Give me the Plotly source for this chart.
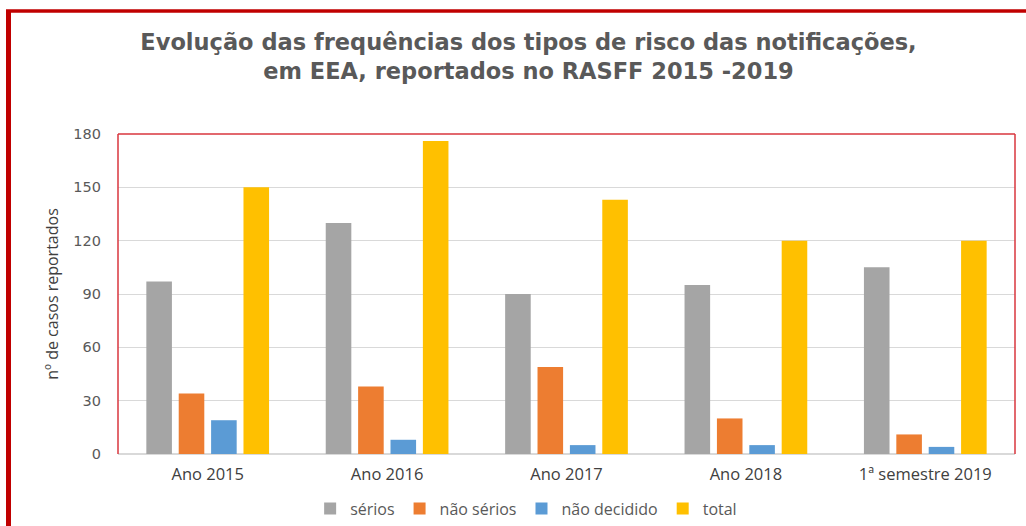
import plotly.graph_objects as go

categories = ["Ano 2015", "Ano 2016", "Ano 2017", "Ano 2018", "1ª semestre 2019"]
serios = [97, 130, 90, 95, 105]
nao_serios = [34, 38, 49, 20, 11]
nao_decidido = [19, 8, 5, 5, 4]
total = [150, 176, 143, 120, 120]
y_ticks = [0, 30, 60, 90, 120, 150, 180]
title_text = ("Evolução das frequências dos tipos de risco das notificações,<br>"
              "em EEA, reportados no RASFF 2015 -2019")

W, H = 1026, 526
L, R, T, B = 118, 11, 134, 72
pw, ph = W - L - R, H - T - B

fig = go.Figure()
series = [("sérios", serios, "#A5A5A5"), ("não sérios", nao_serios, "#ED7D31"),
          ("não decidido", nao_decidido, "#5B9BD5"), ("total", total, "#FFC000")]
for name, vals, col in series:
    fig.add_trace(go.Bar(x=categories, y=vals, name=name, marker_color=col,
                         marker_line_width=0))

def px_x(p):
    return (p - L) / pw

def px_y(p):
    return (H - B - p) / ph

shapes = [
    dict(type="line", xref="paper", yref="paper", x0=0, x1=0, y0=0, y1=1,
         line=dict(color="#D9363E", width=1.5)),
    dict(type="line", xref="paper", yref="paper", x0=0, x1=1, y0=1, y1=1,
         line=dict(color="#D9363E", width=1.5)),
    dict(type="line", xref="paper", yref="paper", x0=1, x1=1, y0=0, y1=1,
         line=dict(color="#D9363E", width=1.5)),
    dict(type="line", xref="paper", yref="paper", x0=px_x(8.5), x1=px_x(8.5),
         y0=px_y(10), y1=px_y(530), line=dict(color="#C00000", width=5)),
    dict(type="line", xref="paper", yref="paper", x0=px_x(6), x1=px_x(1030),
         y0=px_y(11), y1=px_y(11), line=dict(color="#C00000", width=3.5)),
]

fig.update_layout(
    width=W, height=H, autosize=False,
    margin=dict(l=L, r=R, t=T, b=B, autoexpand=False),
    paper_bgcolor="white", plot_bgcolor="white",
    barmode="group", bargap=0.278, bargroupgap=0.21,
    font=dict(family="Open Sans", color="#595959"),
    title=dict(text=title_text, x=px_x(528.5), xref="paper", xanchor="center",
               y=1 - 50 / H, yref="container", yanchor="middle",
               font=dict(family="DejaVu Sans", size=22.5, color="#595959", weight="bold")),
    xaxis=dict(showgrid=False, showline=False, ticks="", ticklabelstandoff=8,
               automargin=False, tickfont=dict(size=16.5, color="#404040")),
    yaxis=dict(range=[0, 180], tickvals=y_ticks, showgrid=True, gridcolor="#D9D9D9",
               gridwidth=1.2, zeroline=True, zerolinecolor="#D9D9D9", zerolinewidth=1.5,
               showline=False, ticks="", ticklabelstandoff=16, automargin=False,
               tickfont=dict(family="DejaVu Sans", size=14.5, color="#595959"),
               title=dict(text="nº de casos reportados", standoff=10,
                          font=dict(size=16, color="#404040"))),
    legend=dict(orientation="h", x=0.455, xanchor="center", y=px_y(508.5), yanchor="middle",
                font=dict(size=16, color="#595959"), itemwidth=30, traceorder="normal"),
    shapes=shapes,
)

fig.write_html("out.html", config={"displayModeBar": False, "responsive": False},
               post_script="document.body.style.margin='0';document.body.style.overflow='hidden';")
